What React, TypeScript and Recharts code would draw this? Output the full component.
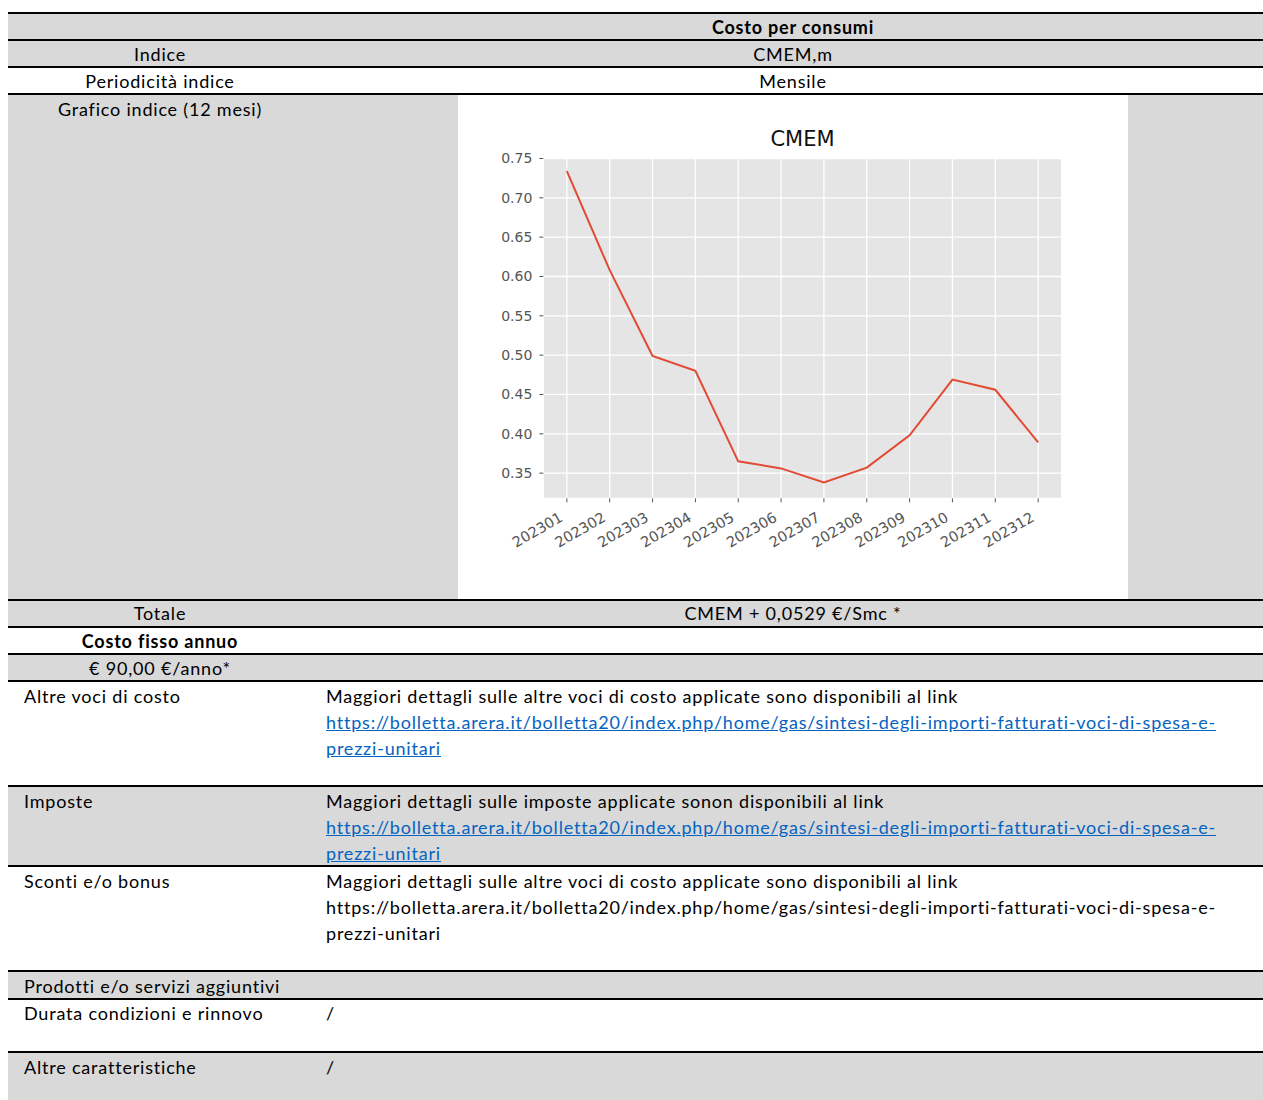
import { LineChart, Line, XAxis, YAxis, CartesianGrid } from "recharts";

// CMEM,m index, 12 months
const months = [
  "202301", "202302", "202303", "202304", "202305", "202306",
  "202307", "202308", "202309", "202310", "202311", "202312",
];
const cmem = [0.734, 0.608, 0.499, 0.48, 0.365, 0.356, 0.338, 0.357, 0.398, 0.469, 0.456, 0.389];
const yTicks = [0.35, 0.4, 0.45, 0.5, 0.55, 0.6, 0.65, 0.7, 0.75];
const xTicks = months.map((_, i) => i);

const data = months.map((m, i) => ({ i, month: m, value: cmem[i] }));

const C = {
  cell: "#D9D9D9",
  plot: "#E5E5E5",
  line: "#E24A33",
  tick: "#555555",
  link: "#0563C1",
};

const DOC_FONT = "Lato, 'Open Sans', sans-serif";
const PLOT_FONT = "'DejaVu Sans', sans-serif";
const URL_1 = "https://bolletta.arera.it/bolletta20/index.php/home/gas/sintesi-degli-importi-fatturati-voci-di-spesa-e-";
const URL_2 = "prezzi-unitari";

// page coordinates -> root coordinates (body margin is 8px)
const px = (v: number) => v - 8;

function MonthTick({ x, y, payload }: any) {
  const ax = x - 3;
  const ay = y + 16;
  return (
    <text
      x={ax}
      y={ay}
      textAnchor="end"
      fill={C.tick}
      fontSize={14.5}
      fontFamily={PLOT_FONT}
      transform={`rotate(-30, ${ax}, ${ay})`}
    >
      {months[payload.value]}
    </text>
  );
}

function CmemChart() {
  return (
    <div style={{ position: "relative", width: 670, height: 504, background: "#fff" }}>
      <div
        style={{
          position: "absolute",
          left: 344.5 - 200,
          width: 400,
          top: 34,
          textAlign: "center",
          fontFamily: PLOT_FONT,
          fontSize: 21,
          lineHeight: "21px",
          color: "#111",
        }}
      >
        CMEM
      </div>
      <LineChart
        width={670}
        height={504}
        data={data}
        margin={{ top: 62.7, right: 66.3, left: 25.3, bottom: 40.7 }}
      >
        <CartesianGrid fill={C.plot} stroke="#ffffff" strokeWidth={1.3} />
        <XAxis
          dataKey="i"
          type="number"
          domain={[-0.55, 11.55]}
          ticks={xTicks}
          interval={0}
          height={60}
          axisLine={false}
          tickLine={{ stroke: C.tick }}
          tickSize={4}
          tickMargin={2}
          tick={<MonthTick />}
        />
        <YAxis
          type="number"
          domain={[0.318, 0.751]}
          ticks={yTicks}
          width={60}
          axisLine={false}
          tickLine={{ stroke: C.tick }}
          tickSize={4}
          tickMargin={7}
          tickFormatter={(v: number) => v.toFixed(2)}
          tick={{ fill: C.tick, fontSize: 14, fontFamily: PLOT_FONT }}
        />
        <Line
          type="linear"
          dataKey="value"
          stroke={C.line}
          strokeWidth={2}
          dot={false}
          isAnimationActive={false}
        />
      </LineChart>
    </div>
  );
}

function Band({ top, bottom, left = 8, right = 1274, bg }: any) {
  return (
    <div
      style={{
        position: "absolute",
        left: px(left),
        width: right - left,
        top: px(top),
        height: bottom - top,
        background: bg,
      }}
    />
  );
}

function Rule({ y }: { y: number }) {
  return (
    <div
      style={{
        position: "absolute",
        left: 0,
        width: 1266,
        top: px(y) - 1,
        height: 2,
        background: "#000",
      }}
    />
  );
}

function Txt({ x, y, w, align = "left", bold = false, children }: any) {
  return (
    <div
      style={{
        position: "absolute",
        left: px(x),
        width: w,
        top: px(y) - 13,
        lineHeight: "26px",
        textAlign: align,
        fontWeight: bold ? 700 : 400,
        whiteSpace: "nowrap",
      }}
    >
      {children}
    </div>
  );
}

const L_COL = { x: 8, w: 304 };
const R_COL = { x: 312, w: 962 };

function Link({ children }: any) {
  return <span style={{ color: C.link, textDecoration: "underline" }}>{children}</span>;
}

export default function App() {
  const rules = [13, 40, 67, 94, 600, 627, 654, 681, 786, 866, 971, 999, 1052];
  return (
    <div
      style={{
        position: "relative",
        width: 1255,
        height: 1092,
        overflow: "hidden",
        fontFamily: DOC_FONT,
        fontSize: 18,
        letterSpacing: "0.8px",
        color: "#000",
      }}
    >
      <style>{`html { overflow: hidden; } body { margin: 8px 0 0 8px; overflow: visible; }`}</style>
      <Band top={13} bottom={40} bg={C.cell} />
      <Band top={40} bottom={67} bg={C.cell} />
      <Band top={94} bottom={600} bg={C.cell} />
      <Band top={600} bottom={627} bg={C.cell} />
      <Band top={654} bottom={681} bg={C.cell} />
      <Band top={786} bottom={866} bg={C.cell} />
      <Band top={971} bottom={999} bg={C.cell} />
      <Band top={1052} bottom={1110} bg={C.cell} />

      <div style={{ position: "absolute", left: px(458), top: px(95), letterSpacing: 0 }}>
        <CmemChart />
      </div>

      {rules.map((y) => (
        <Rule key={y} y={y} />
      ))}

      <Txt x={R_COL.x} w={R_COL.w} y={27} align="center" bold>Costo per consumi</Txt>
      <Txt x={L_COL.x} w={L_COL.w} y={54} align="center">Indice</Txt>
      <Txt x={R_COL.x} w={R_COL.w} y={54} align="center">CMEM,m</Txt>
      <Txt x={L_COL.x} w={L_COL.w} y={81} align="center">Periodicità indice</Txt>
      <Txt x={R_COL.x} w={R_COL.w} y={81} align="center">Mensile</Txt>
      <Txt x={L_COL.x} w={L_COL.w} y={109} align="center">Grafico indice (12 mesi)</Txt>

      <Txt x={L_COL.x} w={L_COL.w} y={613} align="center">Totale</Txt>
      <Txt x={R_COL.x} w={R_COL.w} y={613} align="center">CMEM + 0,0529 €/Smc *</Txt>
      <Txt x={L_COL.x} w={L_COL.w} y={641} align="center" bold>Costo fisso annuo</Txt>
      <Txt x={L_COL.x} w={L_COL.w} y={668} align="center">€ 90,00 €/anno*</Txt>

      <Txt x={24} w={280} y={696}>Altre voci di costo</Txt>
      <Txt x={326} w={940} y={696}>
        Maggiori dettagli sulle altre voci di costo applicate sono disponibili al link
        <br />
        <Link>{URL_1}</Link>
        <br />
        <Link>{URL_2}</Link>
      </Txt>

      <Txt x={24} w={280} y={801}>Imposte</Txt>
      <Txt x={326} w={940} y={801}>
        Maggiori dettagli sulle imposte applicate sonon disponibili al link
        <br />
        <Link>{URL_1}</Link>
        <br />
        <Link>{URL_2}</Link>
      </Txt>

      <Txt x={24} w={280} y={881}>Sconti e/o bonus</Txt>
      <Txt x={326} w={940} y={881}>
        Maggiori dettagli sulle altre voci di costo applicate sono disponibili al link
        <br />
        {URL_1}
        <br />
        {URL_2}
      </Txt>

      <Txt x={24} w={300} y={986}>Prodotti e/o servizi aggiuntivi</Txt>
      <Txt x={24} w={280} y={1013}>Durata condizioni e rinnovo</Txt>
      <Txt x={326} w={100} y={1013}>/</Txt>
      <Txt x={24} w={280} y={1067}>Altre caratteristiche</Txt>
      <Txt x={326} w={100} y={1067}>/</Txt>
    </div>
  );
}
